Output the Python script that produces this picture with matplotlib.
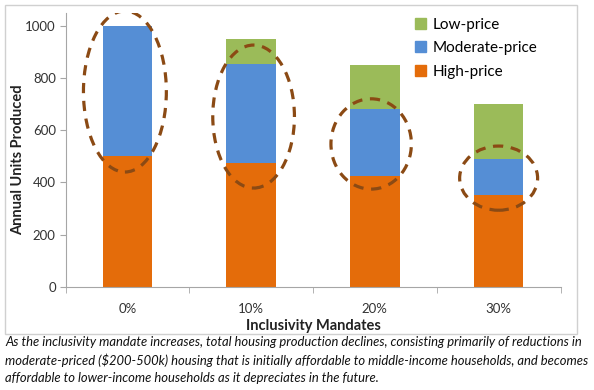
import numpy as np
import matplotlib.pyplot as plt
from matplotlib.patches import Ellipse, Rectangle, Patch

plt.rcParams['font.family'] = ['Lato', 'DejaVu Sans']

# ─── data ────────────────────────────────────────────────────────────────────
mandates = ["0%", "10%", "20%", "30%"]
high_price = [500, 475, 425, 350]
moderate_price = [500, 380, 255, 140]
low_price = [0, 95, 170, 210]

# dashed ellipses (centre x, centre y, width, height) in data units
circle_x = [-0.02, 1.02, 1.97, 3.0]
circle_y = [748, 652, 547, 416]
circle_w = [0.67, 0.66, 0.65, 0.63]
circle_h = [617, 548, 346, 246]

caption = ("As the inclusivity mandate increases, total housing production declines, consisting primarily of reductions in\n"
           "moderate-priced ($200-500k) housing that is initially affordable to middle-income households, and becomes\n"
           "affordable to lower-income households as it depreciates in the future.")

C_HIGH = "#E46C0A"
C_MOD = "#558ED5"
C_LOW = "#9BBB59"
C_RING = "#8B4A14"

W, H = 594, 390
fig = plt.figure(figsize=(W / 100, H / 100), dpi=100)
ax = fig.add_axes([65.5 / W, 1 - 286.7 / H, 495 / W, 274 / H])

x = np.arange(len(mandates))
hp = np.array(high_price)
mp = np.array(moderate_price)
lp = np.array(low_price)
ax.bar(x, hp, width=0.4, color=C_HIGH, label="High-price")
ax.bar(x, mp, width=0.4, bottom=hp, color=C_MOD, label="Moderate-price")
ax.bar(x, lp, width=0.4, bottom=hp + mp, color=C_LOW, label="Low-price")

for cx, cy, cw, ch in zip(circle_x, circle_y, circle_w, circle_h):
    ax.add_patch(Ellipse((cx, cy), cw, ch, fill=False, edgecolor=C_RING,
                         lw=2.3, ls=(0, (3.2, 2.4)), zorder=5))

ax.set_xlim(-0.5, 3.5)
ax.set_ylim(0, 1050)
ax.set_yticks(np.arange(0, 1001, 200))
ax.set_xticks(x)
ax.set_xticklabels(mandates)
ax.set_xticks(np.arange(-0.5, 3.6, 1), minor=True)
ax.tick_params(axis="x", which="major", length=0, pad=12, labelsize=9.5, colors="#333333")
ax.tick_params(axis="x", which="minor", length=4, color="#A6A6A6")
ax.tick_params(axis="y", length=4, color="#A6A6A6", labelsize=9.5, labelcolor="#333333", pad=3)

for s in ["top", "right"]:
    ax.spines[s].set_visible(False)
for s in ["left", "bottom"]:
    ax.spines[s].set_color("#A6A6A6")

fig.text(18 / W, 1 - 160 / H, "Annual Units Produced", rotation=90, ha="center", va="center",
         fontsize=10.5, fontweight="bold", color="#222222")
fig.text(313 / W, 1 - 326 / H, "Inclusivity Mandates", ha="center", va="center",
         fontsize=10.5, fontweight="bold", color="#222222")

handles = [Patch(color=C_LOW), Patch(color=C_MOD), Patch(color=C_HIGH)]
fig.legend(handles, ["Low-price", "Moderate-price", "High-price"], loc="upper left",
           bbox_to_anchor=(401 / W, 1 - 4 / H), frameon=False, fontsize=11,
           handlelength=0.75, handleheight=0.75, handletextpad=0.4, labelspacing=0.62)

# chart border
fig.patches.append(Rectangle((5 / W, 1 - 334 / H), 572 / W, 329 / H, transform=fig.transFigure,
                             fill=False, edgecolor="#D0D0D0", lw=1))

fig.text(5 / W, 1 - 336 / H, caption, ha="left", va="top", fontsize=9.4, style="italic",
         color="#111111", linespacing=1.5)

fig.savefig("out.png", dpi=100)
